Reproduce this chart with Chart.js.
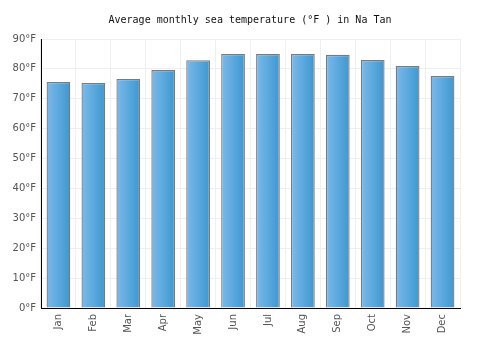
<!DOCTYPE html>
<html>
<head>
<meta charset="utf-8">
<script src="https://cdn.jsdelivr.net/npm/chart.js@4"></script>
<style>
  body { margin: 0; background: #fff; }
  #wrap { width: 500px; height: 350px; }
</style>
</head>
<body>
<div id="wrap"><canvas id="temps" width="500" height="350"></canvas></div>
<script>
const months = ["Jan", "Feb", "Mar", "Apr", "May", "Jun", "Jul", "Aug", "Sep", "Oct", "Nov", "Dec"];
const seaTemp = [75.6, 75.3, 76.6, 79.6, 82.9, 85, 85, 85, 84.7, 83, 81, 77.6];
const yTicks = [0, 10, 20, 30, 40, 50, 60, 70, 80, 90];

const ctx = document.getElementById("temps");
const barPct = 0.68;

function barFill(c) {
  const chart = c.chart;
  const area = chart.chartArea;
  const xs = chart.scales.x;
  if (!area || !xs) return "#5aa8de";
  const mid = xs.getPixelForValue(c.dataIndex);
  const w = (area.width / months.length) * barPct;
  const g = chart.ctx.createLinearGradient(mid - w / 2, 0, mid + w / 2, 0);
  g.addColorStop(0, "#7db9ea");
  g.addColorStop(1, "#3b98d1");
  return g;
}

new Chart(ctx, {
  type: "bar",
  data: {
    labels: months,
    datasets: [
      {
        label: "Sea temperature",
        data: seaTemp,
        backgroundColor: barFill,
        borderColor: "#7a7a7a",
        borderWidth: 1.3,
        borderSkipped: "bottom",
        barPercentage: barPct,
        categoryPercentage: 1,
      },
    ],
  },
  options: {
    responsive: false,
    animation: false,
    layout: { padding: 0 },
    plugins: {
      legend: { display: false },
      tooltip: { enabled: false },
      title: {
        display: true,
        text: "Average monthly sea temperature (°F ) in Na Tan",
        color: "#111",
        font: { family: "DejaVu Sans Mono", size: 10, weight: "normal" },
        padding: { top: 14, bottom: 13 },
      },
    },
    scales: {
      x: {
        grid: { color: "#efefef", drawTicks: false },
        border: { color: "#000", width: 1 },
        ticks: {
          color: "#555",
          font: { family: "DejaVu Sans", size: 10 },
          maxRotation: 90,
          minRotation: 90,
          padding: 6,
        },
        afterFit(scale) { scale.height = 42; },
      },
      y: {
        min: 0,
        max: 90,
        afterBuildTicks(scale) { scale.ticks = yTicks.map(v => ({ value: v })); },
        grid: { color: "#efefef", drawTicks: false },
        border: { color: "#000", width: 1 },
        ticks: {
          color: "#555",
          font: { family: "DejaVu Sans", size: 10 },
          padding: 5,
          callback: v => v + "°F",
        },
        afterFit(scale) { scale.width = 41; },
      },
      // empty right-hand spacer so the title stays centred on the canvas
      spacer: {
        type: "linear",
        position: "right",
        grid: { display: false },
        border: { display: false },
        ticks: { display: false },
        afterFit(scale) { scale.width = 40; },
      },
    },
  },
});
</script>
</body>
</html>
